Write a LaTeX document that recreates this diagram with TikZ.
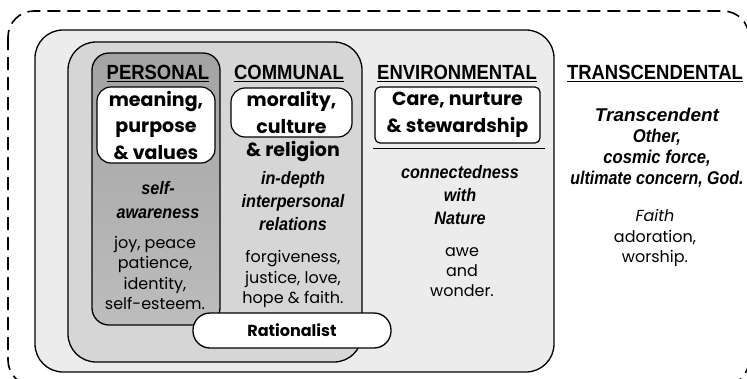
\documentclass[tikz,border=0pt]{standalone}
\usepackage{fontspec}
\setmainfont{Poppins}
\newfontfamily\hd{Liberation Sans}[FakeStretch=0.9]
\newfontfamily\ib{Liberation Sans}[FakeStretch=0.9]
\definecolor{envgray}{gray}{0.925}
\definecolor{comgray}{gray}{0.84}
\definecolor{pertop}{gray}{0.64}
\definecolor{perbot}{gray}{0.74}
\newcommand{\hsc}[2]{\scalebox{#1}[1]{#2}}
\begin{document}
\begin{tikzpicture}[x=1pt,y=-1pt,
  frame/.style={draw=black, line width=1.3pt, rounded corners=28pt},
  wbox/.style={draw=black, fill=white, line width=1.2pt, rounded corners=14pt, align=center, inner sep=0pt,
     font=\bfseries\fontsize{19}{26.5}\selectfont},
  hdr/.style={font=\hd\bfseries\fontsize{20.5}{22}\selectfont, inner sep=0pt},
  itb/.style={font=\ib\bfseries\itshape\fontsize{18}{23}\selectfont, align=center, inner sep=0pt},
  body/.style={font=\fontsize{16}{20.3}\selectfont, align=center, inner sep=0pt},
  uline/.style={line width=0.9pt}
]
\useasboundingbox (0,0) rectangle (747,378);
% outer dashed frame
\draw[line width=1.6pt, dash pattern=on 13pt off 7pt, rounded corners=26pt] (8,11) rectangle (749,386);
% nested boxes
\draw[frame, fill=envgray] (35,30) rectangle (554,372);
\draw[frame, fill=comgray] (68,42) rectangle (362,362);
\draw[frame, top color=pertop, bottom color=perbot, rounded corners=17pt] (92,53) rectangle (220,325);

% headers
\node[hdr] (hp) at (158,72) {PERSONAL};
\node[hdr] (hc) at (289,72) {COMMUNAL};
\node[hdr] (he) at (457,72) {ENVIRONMENTAL};
\node[hdr] (ht) at (655,72) {TRANSCENDENTAL};
\foreach \n in {hp,hc,he,ht}
  \draw[uline] ([yshift=-2.5pt]\n.base west) -- ([yshift=-2.5pt]\n.base east);

% white boxes
\node[wbox, minimum width=118pt, minimum height=76pt] (mean) at (156,125) {meaning,\\purpose\\\& values};
\node[wbox, minimum width=121pt, minimum height=49pt] (mor) at (291.5,112.5) {morality,\\culture};
\node[font=\bfseries\fontsize{19}{20}\selectfont, inner sep=0pt] (rel) at (293,151) {\& religion};
\node[wbox, rounded corners=5pt, minimum width=165pt, minimum height=56pt] (care) at (457.5,115) {Care, nurture\\\& stewardship};
\draw[uline] (373,148) -- (545,148);

% personal column
\node[itb, font=\ib\bfseries\itshape\fontsize{18}{24}\selectfont] (self) at (158,200) {self-\\awareness};
\node[body] (joy) at (155,273) {joy, peace\\patience,\\identity,\\self-esteem.};

% communal column
\node[itb] (depth) at (293,201) {in-depth\\interpersonal\\relations};
\node[body] (forg) at (293,279) {forgiveness,\\justice, love,\\hope \& faith.};

% environmental column
\node[itb] (conn) at (460,195) {connectedness\\with\\Nature};
\node[body] (awe) at (462,272) {awe\\and\\wonder.};

% transcendental column
\node[itb, font=\ib\bfseries\itshape\fontsize{18.5}{21}\selectfont] (trans) at (657,148) {\hsc{1.14}{Transcendent}\\Other,\\cosmic force,\\\hsc{0.96}{ultimate concern, God.}};
\node[body] (faith) at (655,238) {\itshape Faith\\adoration,\\worship.};

% rationalist
\node[draw=black, fill=white, line width=1.3pt, rounded corners=17pt, minimum width=198pt, minimum height=35pt,
      font=\bfseries\fontsize{16}{17}\selectfont] (rat) at (292,330.5) {Rationalist};
\end{tikzpicture}
\end{document}
